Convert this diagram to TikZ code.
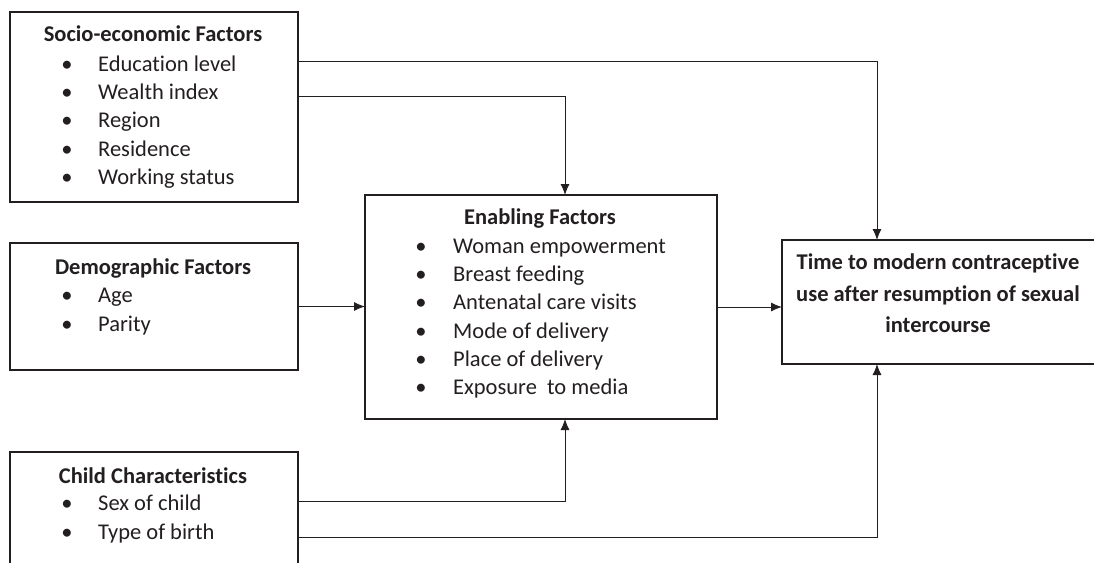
\documentclass[tikz,border=0pt]{standalone}
\usepackage{fontspec}
\setmainfont[Ligatures={NoCommon}]{Carlito}
\usetikzlibrary{arrows.meta}
\definecolor{ink}{HTML}{231F20}
\begin{document}
\begin{tikzpicture}[x=1pt,y=-1pt,
  box/.style={draw=ink, line width=1.1pt, anchor=north west, inner sep=0pt, outer sep=0pt},
  txt/.style={text=ink, font=\fontsize{22.5}{27}\selectfont, inner sep=0pt},
  ttl/.style={txt, font=\fontsize{22.5}{27}\selectfont\bfseries, anchor=base},
  itm/.style={txt, anchor=base west},
  bul/.style={txt, anchor=base},
  arr/.style={draw=ink, line width=0.9pt, -{Latex[length=11pt,width=9pt]}}]
\useasboundingbox (0,0) rectangle (1094,562);
\clip (0,0) rectangle (1094,562);
\fill[white] (0,0) rectangle (1094,562);

% boxes
\node[box, minimum width=288pt, minimum height=190pt] (se) at (10,12) {};
\node[box, minimum width=288pt, minimum height=127pt] (dem) at (10,243) {};
\node[box, minimum width=288pt, minimum height=140pt] (ch) at (10,452) {};
\node[box, minimum width=352pt, minimum height=224pt] (en) at (365,195) {};
\node[box, minimum width=330pt, minimum height=124pt] (res) at (782,240) {};

% socio-economic
\node[ttl] (set) at (153,41) {Socio-economic Factors};
\foreach \n/\y/\t in {1/71/Education level, 2/99/Wealth index, 3/127/Region, 4/156/Residence, 5/184/Working status}{
  \node[bul] (seb\n) at (67,\y) {•};
  \node[itm] (sei\n) at (98,\y) {\t};
}

% demographic
\node[ttl] (demt) at (153,274) {Demographic Factors};
\foreach \n/\y/\t in {1/302/Age, 2/331/Parity}{
  \node[bul] (demb\n) at (67,\y) {•};
  \node[itm] (demi\n) at (98,\y) {\t};
}

% child
\node[ttl] (cht) at (153,483) {Child Characteristics};
\foreach \n/\y/\t in {1/510/Sex of child, 2/539/Type of birth}{
  \node[bul] (chb\n) at (67,\y) {•};
  \node[itm] (chi\n) at (98,\y) {\t};
}

% enabling
\node[ttl] (ent) at (540,224) {Enabling Factors};
\foreach \n/\y/\t in {1/253/Woman empowerment, 2/281/Breast feeding, 3/309/Antenatal care visits, 4/338/Mode of delivery, 5/366/Place of delivery, 6/394/Exposure\ \ to media}{
  \node[bul] (enb\n) at (421,\y) {•};
  \node[itm] (eni\n) at (453,\y) {\t};
}

% outcome
\node[ttl] (r1) at (938,269) {Time to modern contraceptive};
\node[ttl] (r2) at (938,301) {use after resumption of sexual};
\node[ttl] (r3) at (938,332) {intercourse};

% connectors
\draw[arr] ([yshift=-49pt]se.north east) -| ([xshift=95pt]res.north west);
\draw[arr] ([yshift=-84pt]se.north east) -| ([xshift=200pt]en.north west);
\draw[arr] (dem.east) -- (dem.east -| en.west);
\draw[arr] (en.east) -- (en.east -| res.west);
\draw[arr] ([yshift=-49pt]ch.north east) -| ([xshift=200pt]en.south west);
\draw[arr] ([yshift=-85pt]ch.north east) -| ([xshift=95pt]res.south west);
\end{tikzpicture}
\end{document}
